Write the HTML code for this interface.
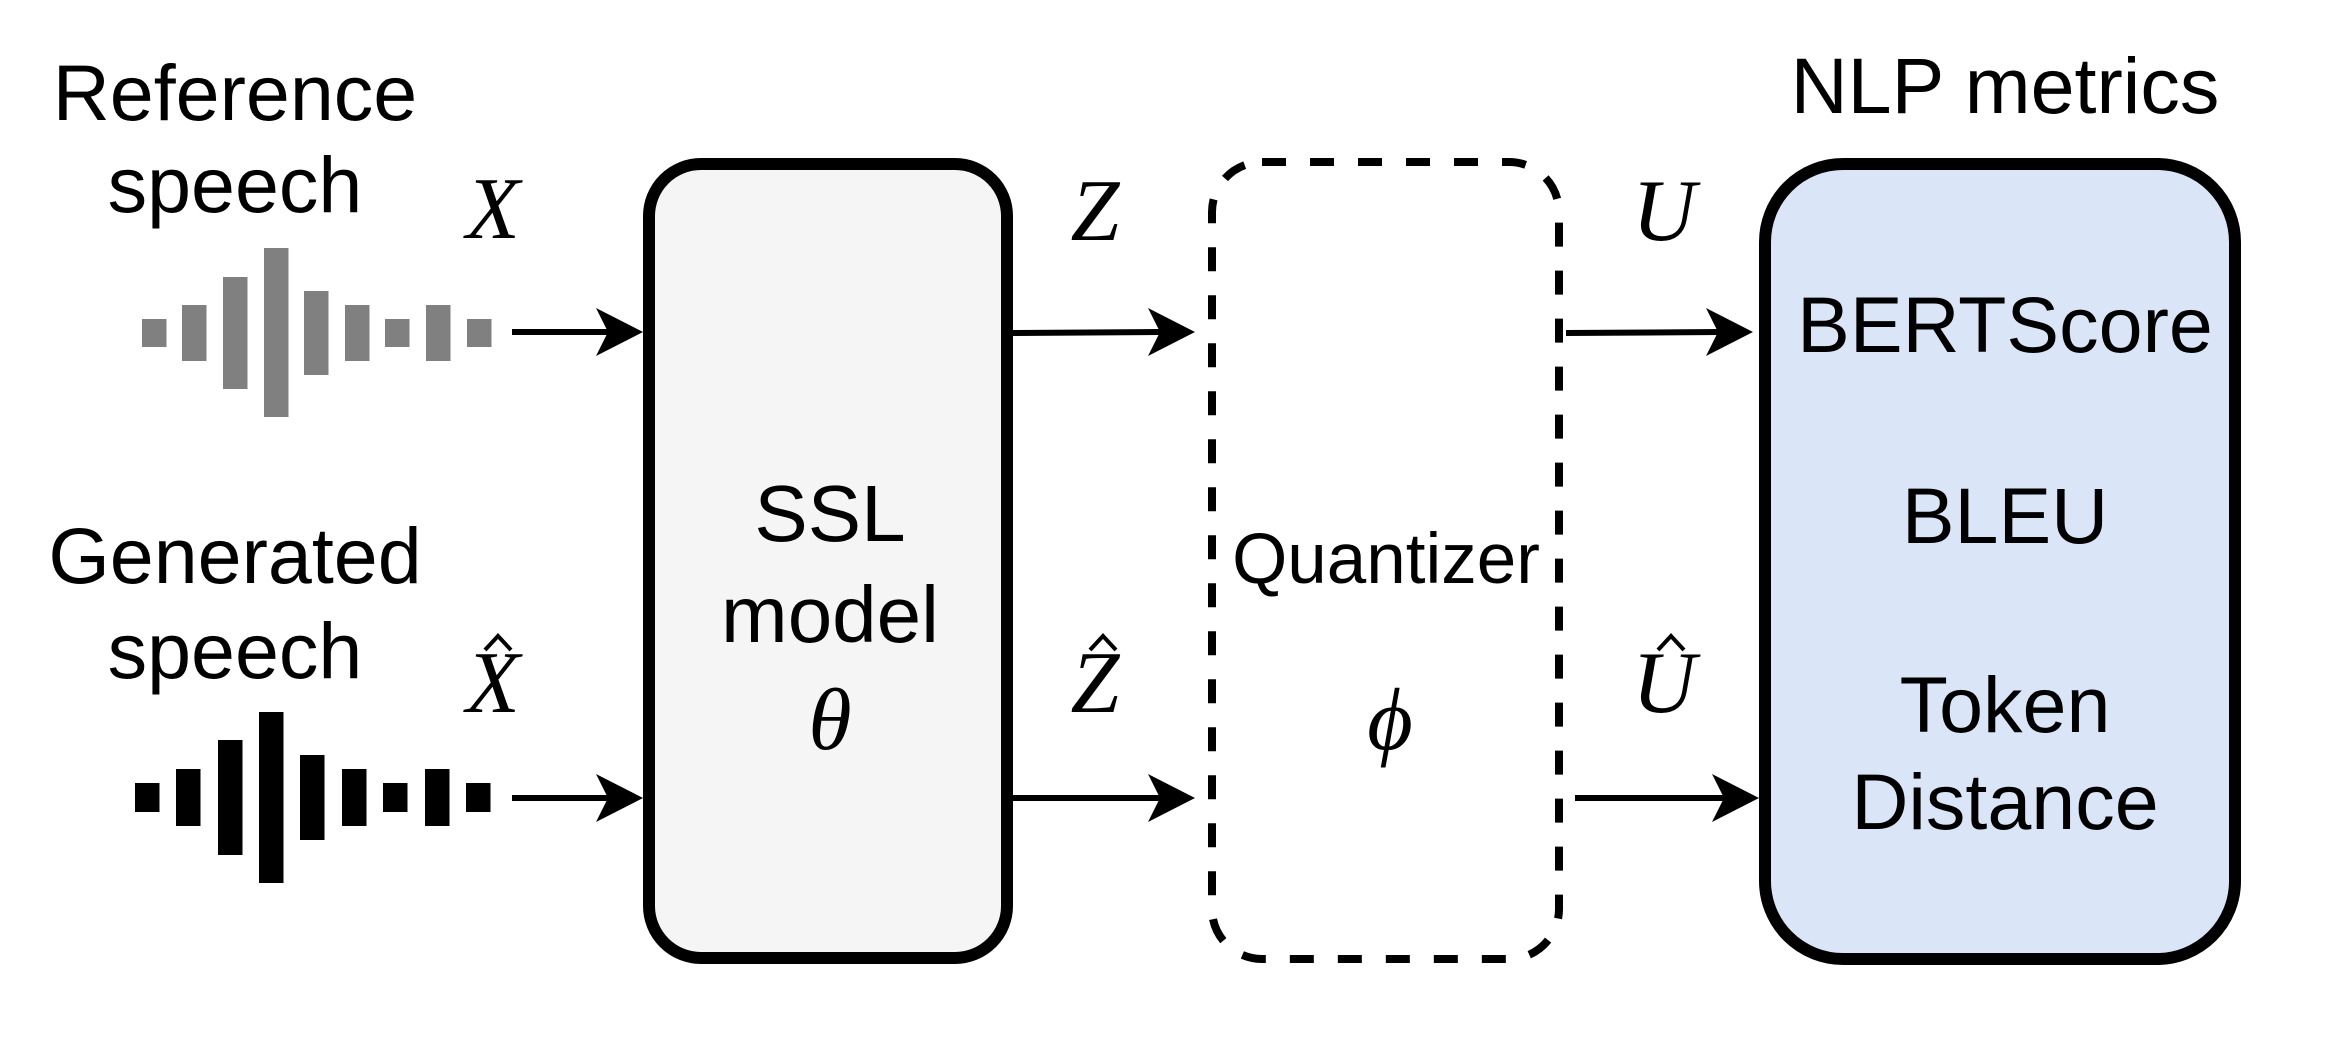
<!DOCTYPE html>
<html><head><meta charset="utf-8"><style>
html,body{margin:0;padding:0;background:#fff;}
svg{display:block;}
.s{font-family:"Liberation Sans",Arial,sans-serif;fill:#000;}
.m{font-family:"Liberation Serif","DejaVu Serif",serif;font-style:italic;fill:#000;}
</style></head><body>
<svg width="2330" height="1044" viewBox="0 0 2330 1044" xmlns="http://www.w3.org/2000/svg">
<rect width="2330" height="1044" fill="#fff"/>
<text class="s" x="235" y="120" font-size="79" text-anchor="middle">Reference</text>
<text class="s" x="235" y="212" font-size="79" text-anchor="middle">speech</text>
<text class="s" x="235" y="583" font-size="79" text-anchor="middle">Generated</text>
<text class="s" x="235" y="678" font-size="79" text-anchor="middle">speech</text>
<g fill="#808080">
<rect x="142" y="319" width="24.5" height="28"/>
<rect x="182" y="305" width="24.5" height="56"/>
<rect x="223" y="277" width="24.5" height="112"/>
<rect x="264" y="248" width="24.5" height="169"/>
<rect x="304" y="291" width="24.5" height="84"/>
<rect x="345" y="305" width="24.5" height="56"/>
<rect x="385" y="319" width="24.5" height="28"/>
<rect x="426" y="305" width="24.5" height="56"/>
<rect x="467" y="319" width="24.5" height="28"/>
</g>
<g fill="#000">
<rect x="135" y="783" width="24.5" height="29"/>
<rect x="176" y="769" width="24.5" height="57"/>
<rect x="218" y="740" width="24.5" height="115"/>
<rect x="259" y="712" width="24.5" height="171"/>
<rect x="300" y="755" width="24.5" height="85"/>
<rect x="342" y="769" width="24.5" height="57"/>
<rect x="383" y="783" width="24.5" height="29"/>
<rect x="425" y="769" width="24.5" height="57"/>
<rect x="466" y="783" width="24.5" height="29"/>
</g>
<rect x="649" y="164" width="358" height="794" rx="52" ry="52" fill="#f5f5f5" stroke="#000" stroke-width="12"/>
<rect x="1212" y="162" width="347" height="797" rx="50" ry="50" fill="none" stroke="#000" stroke-width="8" stroke-dasharray="24 24"/>
<rect x="1765" y="164" width="470" height="795" rx="78" ry="78" fill="#dae6f8" stroke="#000" stroke-width="12"/>
<g stroke="#000" stroke-width="6">
<line x1="512" y1="332" x2="610" y2="332"/>
<line x1="512" y1="798" x2="610" y2="798"/>
<line x1="1013" y1="333" x2="1160" y2="332"/>
<line x1="1013" y1="798" x2="1160" y2="798"/>
<line x1="1566" y1="333" x2="1720" y2="332"/>
<line x1="1575" y1="798" x2="1730" y2="798"/>
</g>
<g fill="#000">
<polygon points="643,332 596,308 608,332 596,356"/>
<polygon points="643,798 596,774 608,798 596,822"/>
<polygon points="1195,332 1148,308 1160,332 1148,356"/>
<polygon points="1195,798 1148,774 1160,798 1148,822"/>
<polygon points="1753,332 1706,308 1718,332 1706,356"/>
<polygon points="1759,798 1712,774 1724,798 1712,822"/>
</g>
<text class="m" x="493" y="238" font-size="88" text-anchor="middle">X</text>
<text class="m" x="493" y="712" font-size="88" text-anchor="middle">X</text>
<text class="m" x="1095" y="240" font-size="88" text-anchor="middle">Z</text>
<text class="m" x="1095" y="712" font-size="88" text-anchor="middle">Z</text>
<text class="m" x="1664" y="240" font-size="88" text-anchor="middle">U</text>
<text class="m" x="1664" y="712" font-size="88" text-anchor="middle">U</text>
<g fill="none" stroke="#000" stroke-width="4">
<polyline points="485,650 498,636 511,650"/>
<polyline points="1090,650 1103,636 1116,650"/>
<polyline points="1658,650 1671,636 1684,650"/>
</g>
<text class="s" x="830" y="541" font-size="80" text-anchor="middle">SSL</text>
<text class="s" x="830" y="642" font-size="80" text-anchor="middle">model</text>
<text class="m" x="830" y="749" font-size="88" text-anchor="middle">θ</text>
<text class="s" x="1386" y="583" font-size="71" text-anchor="middle">Quantizer</text>
<text class="m" x="1390" y="749" font-size="88" text-anchor="middle">ϕ</text>
<text class="s" x="2005" y="113" font-size="79" text-anchor="middle">NLP metrics</text>
<text class="s" x="2005" y="352" font-size="79" text-anchor="middle">BERTScore</text>
<text class="s" x="2005" y="543" font-size="79" text-anchor="middle">BLEU</text>
<text class="s" x="2005" y="732" font-size="79" text-anchor="middle">Token</text>
<text class="s" x="2005" y="829" font-size="79" text-anchor="middle">Distance</text>
</svg>
</body></html>
